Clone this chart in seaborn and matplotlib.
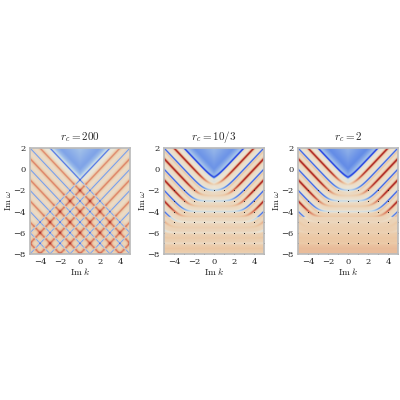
import numpy as np
import matplotlib
matplotlib.use("Agg")
import matplotlib.pyplot as plt
from matplotlib.colors import LinearSegmentedColormap
import seaborn as sns

sns.set_theme(style="white")
plt.rcParams['font.family'] = ['DejaVu Serif']
plt.rcParams['mathtext.fontset'] = 'cm'

titles = [r"$r_c = 200$", r"$r_c = 10/3$", r"$r_c = 2$"]
plateau_strength = [0.0, 0.55, 0.85]   # how strongly lines flatten into horizontal levels
line_levels = [1, 2, 3, 4, 5, 6, 7, 8, 9, 10]
xticks = [-4, -2, 0, 2, 4]
yticks = [2, 0, -2, -4, -6, -8]

cmap = LinearSegmentedColormap.from_list("m", [
    (0.0, "#1a2ee0"), (0.2, "#4f7be6"), (0.4, "#b8d3ea"), (0.5, "#ebe6d8"),
    (0.62, "#ecc9a6"), (0.8, "#d9745a"), (1.0, "#a51c1c")])

k = np.linspace(-5, 5, 400)
w = np.linspace(-8, 2, 400)
K, W = np.meshgrid(k, w)

def g(d, wid):
    return np.exp(-(d / wid) ** 2)

def sig(x):
    return 1 / (1 + np.exp(-x))

fig, axes = plt.subplots(1, 3, figsize=(4, 4), dpi=100)
fig.subplots_adjust(left=0.075, right=0.995, bottom=0.365, top=0.63, wspace=0.34)
for ax, title, ps in zip(axes, titles, plateau_strength):
    F = np.zeros_like(K)
    for n in line_levels:
        if ps == 0:
            for sgn in (1, -1):
                db = W - (sgn * K - (2 * n - 1))
                dr = W - (sgn * K - 2 * n)
                F += -0.85 * g(db, 0.08) + 0.15 * g(db, 0.3)
                F += 0.35 * g(dr, 0.1) + 0.2 * g(dr, 0.35)
        else:
            s = 0.35
            AK = np.abs(K)
            k0 = n - 1
            cb = -n + s * np.log1p(np.exp((AK - k0) / s))
            db = W - cb
            amp = 0.2 + 0.8 * sig((AK - k0) * 3)
            amp *= np.where(W < -4.5, 1 - ps, 1)
            F += amp * (-1.0 * g(db, 0.1) + 0.2 * g(db + 0.25, 0.15))
            k1 = n - 0.5
            cr = -(n + 0.5) + s * np.log1p(np.exp((AK - k1) / s))
            dr = W - cr
            ampr = (0.1 + 0.9 * sig((AK - k1 - 0.5) * 2.5))
            ampr *= np.where(W < -4.5, 1 - ps, 1)
            F += ampr * (0.95 * g(dr, 0.12) + 0.2 * g(dr, 0.3))
    cone = sig((W - (np.abs(K) - 1)) * 2.5)
    F -= 0.45 * cone * (1 + 0.3 * ps) * np.exp(-np.abs(W - np.abs(K)) * 0.25)
    F += 0.3 * ps * np.clip((-W - 3) / 5, 0, 1) * (1 - cone)
    F += 0.05 * (1 - cone)
    ax.imshow(F, extent=[-5, 5, -8, 2], origin="lower", cmap=cmap, vmin=-1.0, vmax=1.0,
              aspect="auto", interpolation="bilinear")
    if ps > 0:
        for lev in range(-8, -1):
            ax.scatter(np.arange(-5, 6), [lev] * 11, s=0.5, c="#222222", lw=0)
    ax.set_xlim(-5, 5); ax.set_ylim(-8, 2)
    ax.set_title(title, fontsize=8)
    ax.set_xticks(xticks)
    ax.set_yticks(yticks)
    ax.tick_params(labelsize=6, length=2, pad=1)
    ax.set_xlabel(r"$\mathrm{Im}\,k$", fontsize=7, labelpad=0)
    ax.set_ylabel(r"$\mathrm{Im}\,\omega$", fontsize=7, labelpad=0)
    for sp in ax.spines.values():
        sp.set_color("#bbbbbb")
fig.savefig("out.png", dpi=100)
